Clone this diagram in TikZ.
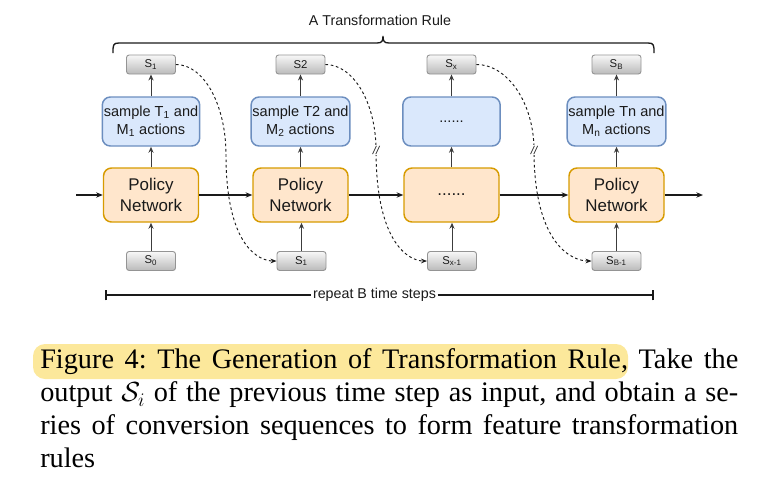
\documentclass[tikz,border=0pt]{standalone}
\usepackage{fontspec}
\setmainfont{Liberation Serif}
\newfontfamily\diagfont{Liberation Sans}
\usetikzlibrary{arrows.meta}
\definecolor{bluefill}{HTML}{DAE8FC}
\definecolor{blueline}{HTML}{6C8EBF}
\definecolor{orfill}{HTML}{FFE6CC}
\definecolor{orline}{HTML}{D79B00}
\definecolor{hlcol}{RGB}{252,232,155}
\definecolor{txt}{HTML}{1A1A1A}
\begin{document}
\begin{tikzpicture}[x=0.75pt,y=-0.75pt,
  bluebox/.style={draw=blueline, fill=bluefill, line width=1.1pt, rounded corners=6pt,
    minimum width=73pt, minimum height=36.75pt, inner sep=1pt, align=center,
    font=\diagfont\fontsize{10.9pt}{13.5pt}\selectfont, text=txt},
  orbox/.style={draw=orline, fill=orfill, line width=1.1pt, rounded corners=6pt,
    minimum width=71.25pt, minimum height=40.5pt, inner sep=1pt, align=center,
    font=\diagfont\fontsize{12.7pt}{15.5pt}\selectfont, text=txt},
  sbox/.style={draw=black!42, top color=black!3, bottom color=black!27, line width=0.7pt,
    rounded corners=2pt, minimum width=36.75pt, minimum height=14.25pt, inner sep=0pt,
    font=\diagfont\fontsize{8.5pt}{9pt}\selectfont, text=txt},
  arr/.style={-{Stealth[length=5pt,width=4pt]}, line width=0.9pt, draw=txt},
  varr/.style={-{Stealth[length=4.5pt,width=3.8pt]}, line width=0.75pt, draw=txt!85},
  dasharr/.style={-{Stealth[length=4.5pt,width=3.5pt]}, dash pattern=on 2pt off 2pt, line width=0.7pt, draw=txt},
  brk/.style={fill=white, inner sep=0.6pt, font=\diagfont\itshape\fontsize{8.5pt}{9pt}\selectfont, text=txt},
  lbl/.style={font=\diagfont\fontsize{10.7pt}{12pt}\selectfont, text=txt, inner sep=1pt}
]
\useasboundingbox (0,0) rectangle (761,490);

% title and brace
\node[lbl] (title) at (380,20) {A Transformation Rule};
\draw[line width=1pt, draw=txt] (113,53) .. controls (113,45) and (113,43) .. (119,43)
  -- (377,43) .. controls (382,43) and (383,41) .. (383,36)
  .. controls (383,41) and (384,43) .. (389,43) -- (648,43)
  .. controls (654,43) and (654,45) .. (654,53);

% top S boxes
\node[sbox] (s1t) at (151,64.5) {S\textsubscript{1}};
\node[sbox] (s2t) at (300.5,64.5) {S2};
\node[sbox] (sxt) at (451.5,64.5) {S\textsubscript{x}};
\node[sbox] (sbt) at (616.5,64.5) {S\textsubscript{B}};

% blue boxes
\node[bluebox] (b1) at (151,121.5) {sample T\textsubscript{1} and\\M\textsubscript{1} actions};
\node[bluebox] (b2) at (300.5,121.5) {sample T2 and\\M\textsubscript{2} actions};
\node[bluebox] (b3) at (451.5,121.5) {......};
\node[bluebox] (b4) at (616.5,121.5) {sample Tn and\\M\textsubscript{n} actions};

% orange boxes
\node[orbox] (p1) at (151,195) {Policy\\Network};
\node[orbox] (p2) at (300.5,195) {Policy\\Network};
\node[orbox] (p3) at (451.5,195) {......};
\node[orbox] (p4) at (616.5,195) {Policy\\Network};

% bottom S boxes
\node[sbox] (s0) at (151,261) {S\textsubscript{0}};
\node[sbox] (s1b) at (301.5,261) {S\textsubscript{1}};
\node[sbox] (sxb) at (452,261) {S\textsubscript{x-1}};
\node[sbox] (sbb) at (616.5,261) {S\textsubscript{B-1}};

% vertical arrows
\foreach \lo/\mi/\hi/\top in {s0/p1/b1/s1t, s1b/p2/b2/s2t, sxb/p3/b3/sxt, sbb/p4/b4/sbt}{
  \draw[varr] (\lo.north) -- (\lo.north |- \mi.south);
  \draw[varr] (\mi.north) -- (\mi.north |- \hi.south);
  \draw[varr] (\hi.north) -- (\hi.north |- \top.south);
}

% horizontal arrows
\coordinate (in0) at (76,195);
\coordinate (out0) at (703,195);
\draw[arr] (in0) -- (p1.west);
\draw[arr] (p1.east) -- (p2.west);
\draw[arr] (p2.east) -- (p3.west);
\draw[arr] (p3.east) -- (p4.west);
\draw[arr] (p4.east) -- (out0);

% dashed feedback curves
\coordinate (m1) at (226,155);
\coordinate (m2) at (376,150);
\coordinate (m3) at (534,150);
\draw[dasharr] (s1t.east) .. controls +(28,0) and +(0,-50) .. (m1)
  .. controls +(0,92) and +(-17,0) .. (s1b.west);
\draw[dasharr] (s2t.east) .. controls +(28,0) and +(0,-47) .. (m2)
  .. controls +(0,95) and +(-17,0) .. (sxb.west);
\draw[dasharr] (sxt.east) .. controls +(31,0) and +(0,-47) .. (m3)
  .. controls +(0,95) and +(-19,0) .. (sbb.west);
\node[brk] (br2) at (m2) {//};
\node[brk] (br3) at (m3) {//};

% repeat line
\node[lbl] (rep) at (374.5,295) {repeat B time steps};
\coordinate (rl) at (106,295);
\coordinate (rr) at (653,295);
\draw[line width=0.9pt, draw=txt] (rl) -- (rep.west);
\draw[line width=0.9pt, draw=txt] (rep.east) -- (rr);
\draw[line width=0.9pt, draw=txt] ([yshift=-4pt]rl) -- ([yshift=4pt]rl);
\draw[line width=0.9pt, draw=txt] ([yshift=-4pt]rr) -- ([yshift=4pt]rr);

% caption
\fill[hlcol, rounded corners=9pt] (33,344) rectangle (628,379);
\node[anchor=north west, inner sep=0pt, text width=523.5pt, align=justify,
  font=\fontsize{21.2pt}{24.75pt}\selectfont] (cap) at (40,348.7)
  {\noindent\frenchspacing Figure 4: The Generation of Transformation Rule, Take the\linebreak
   output $\mathcal{S}_i$ of the previous time step as input, and obtain a se-\linebreak
   ries of conversion sequences to form feature transformation\linebreak
   rules};
\end{tikzpicture}
\end{document}
